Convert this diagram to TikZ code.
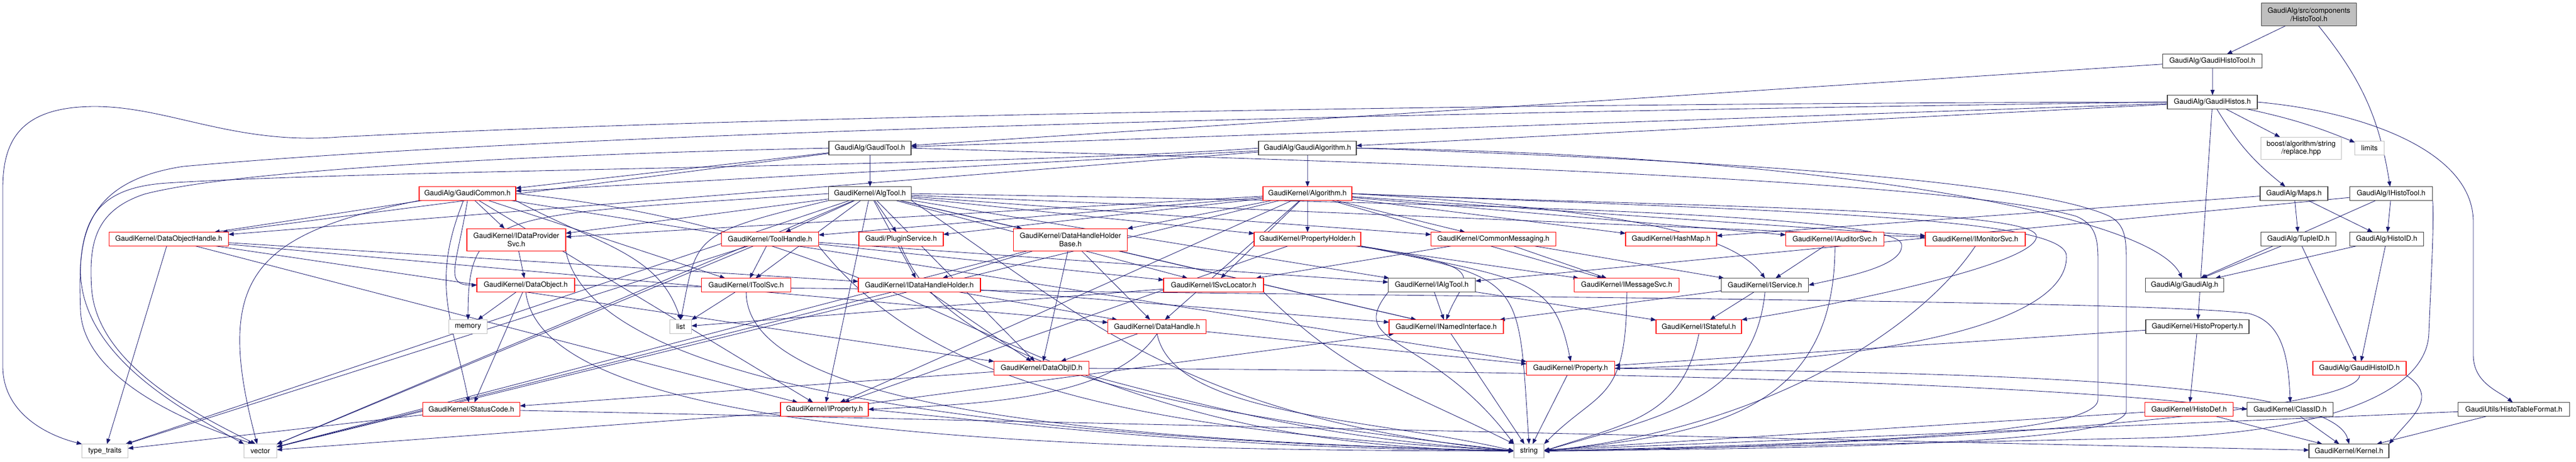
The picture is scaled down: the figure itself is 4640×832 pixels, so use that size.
\documentclass[tikz,border=0pt]{standalone}
\usepackage{fontspec}
\setmainfont{TeX Gyre Heros}
\usetikzlibrary{arrows.meta}
\definecolor{mblue}{HTML}{191970}
\definecolor{nred}{HTML}{FF0000}
\definecolor{nblk}{HTML}{404040}
\definecolor{ngry}{HTML}{BFBFBF}
\pgfdeclarelayer{background}
\pgfsetlayers{background,main}
\tikzset{
  nd/.style={rectangle, minimum height=25pt, inner xsep=2pt, inner ysep=0pt, fill=white,
             line width=0.055pt, font=\fontsize{13}{14.5}\selectfont, align=center},
  rn/.style={nd, draw=nred},
  bn/.style={nd, draw=nblk},
  gn/.style={nd, draw=ngry},
  ed/.style={draw=mblue, line width=0.042pt, -{Triangle[length=0.47pt,width=0.36pt]}},
}
\newcommand{\myedge}[3][]{\draw[ed] (#2) to[#1] (#3);}
\newcommand{\myc}[4]{\draw[ed] (#1) .. controls +(#2) and +(#3) .. (#4);}
\begin{document}
\begin{tikzpicture}[x=1pt,y=-1pt,scale=0.05,transform shape]
\useasboundingbox (0,0) rectangle (4640,832);
% ---------- nodes ----------
\node[bn, fill=ngry, minimum width=171pt, minimum height=41pt] (root) at (4159,26) {GaudiAlg/src/components\\/HistoTool.h};
\node[bn, minimum width=179pt] (ght) at (3985,110) {GaudiAlg/GaudiHistoTool.h};
\node[bn, minimum width=162pt] (ghs) at (3985,184) {GaudiAlg/GaudiHistos.h};
\node[bn, minimum width=148pt] (gt) at (1567,267) {GaudiAlg/GaudiTool.h};
\node[bn, minimum width=176pt] (ga) at (2355,267) {GaudiAlg/GaudiAlgorithm.h};
\node[gn, minimum width=145pt, minimum height=40pt] (boost) at (4145,267) {boost/algorithm/string\\/replace.hpp};
\node[gn, minimum width=53pt] (limits) at (4268,267) {limits};
\node[rn, minimum width=174pt] (gc) at (842,349) {GaudiAlg/GaudiCommon.h};
\node[bn, minimum width=149pt] (at) at (1567,349) {GaudiKernel/AlgTool.h};
\node[rn, minimum width=160pt] (alg) at (2355,349) {GaudiKernel/Algorithm.h};
\node[bn, minimum width=122pt] (maps) at (4132,349) {GaudiAlg/Maps.h};
\node[bn, minimum width=149pt] (iht) at (4307,349) {GaudiAlg/IHistoTool.h};
\node[rn, minimum width=215pt] (doh) at (304,431) {GaudiKernel/DataObjectHandle.h};
\node[rn, minimum width=178pt, minimum height=40pt] (idps) at (930,432) {GaudiKernel/IDataProvider\\Svc.h};
\node[rn, minimum width=175pt] (th) at (1387,431) {GaudiKernel/ToolHandle.h};
\node[rn, minimum width=152pt] (ps) at (1623,431) {Gaudi/PluginService.h};
\node[rn, minimum width=205pt, minimum height=40pt] (dhhb) at (1928,432) {GaudiKernel/DataHandleHolder\\Base.h};
\node[rn, minimum width=192pt] (ph) at (2355,431) {GaudiKernel/PropertyHolder.h};
\node[rn, minimum width=225pt] (cm) at (2690,431) {GaudiKernel/CommonMessaging.h};
\node[rn, minimum width=164pt] (hm) at (3010,431) {GaudiKernel/HashMap.h};
\node[rn, minimum width=177pt] (ias) at (3305,431) {GaudiKernel/IAuditorSvc.h};
\node[rn, minimum width=180pt] (ims) at (3558,431) {GaudiKernel/IMonitorSvc.h};
\node[bn, minimum width=135pt] (tid) at (4140,431) {GaudiAlg/TupleID.h};
\node[bn, minimum width=133pt] (hid) at (4299,431) {GaudiAlg/HistoID.h};
\node[rn, minimum width=176pt] (do) at (947,514) {GaudiKernel/DataObject.h};
\node[rn, minimum width=161pt] (its) at (1344,514) {GaudiKernel/IToolSvc.h};
\node[rn, minimum width=220pt] (idhh) at (1656,514) {GaudiKernel/IDataHandleHolder.h};
\node[rn, minimum width=180pt] (isl) at (2186,514) {GaudiKernel/ISvcLocator.h};
\node[bn, minimum width=157pt] (iat) at (2579,514) {GaudiKernel/IAlgTool.h};
\node[rn, minimum width=189pt] (imsg) at (2930,514) {GaudiKernel/IMessageSvc.h};
\node[bn, minimum width=157pt] (isvc) at (3179,514) {GaudiKernel/IService.h};
\node[bn, minimum width=141pt] (galg) at (3935,514) {GaudiAlg/GaudiAlg.h};
\node[gn, minimum width=69pt] (mem) at (843,589) {memory};
\node[gn, minimum width=39pt] (list) at (1226,589) {list};
\node[rn, minimum width=177pt] (dh) at (2084,589) {GaudiKernel/DataHandle.h};
\node[rn, minimum width=206pt] (ini) at (2605,589) {GaudiKernel/INamedInterface.h};
\node[rn, minimum width=154pt] (ist) at (3060,589) {GaudiKernel/IStateful.h};
\node[bn, minimum width=186pt] (hp) at (3958,589) {GaudiKernel/HistoProperty.h};
\node[rn, minimum width=171pt] (doid) at (1876,664) {GaudiKernel/DataObjID.h};
\node[rn, minimum width=159pt] (prop) at (2829,664) {GaudiKernel/Property.h};
\node[rn, minimum width=168pt] (ghid) at (4250,664) {GaudiAlg/GaudiHistoID.h};
\node[rn, minimum width=175pt] (sc) at (849,738) {GaudiKernel/StatusCode.h};
\node[rn, minimum width=158pt] (iprop) at (1485,738) {GaudiKernel/IProperty.h};
\node[rn, minimum width=159pt] (hd) at (3943,738) {GaudiKernel/HistoDef.h};
\node[bn, minimum width=155pt] (cid) at (4125,738) {GaudiKernel/ClassID.h};
\node[bn, minimum width=201pt] (htf) at (4528,738) {GaudiUtils/HistoTableFormat.h};
\node[gn, minimum width=83pt] (tt) at (189,813) {type\_traits};
\node[gn, minimum width=59pt] (vec) at (469,813) {vector};
\node[gn, minimum width=54pt] (str) at (2754,813) {string};
\node[bn, minimum width=144pt] (ker) at (4231,813) {GaudiKernel/Kernel.h};
% ---------- edges ----------
\begin{pgfonlayer}{background}
\fill[white] (0,0) rectangle (4640,832);
% root
\myedge{root}{ght}
\myedge[bend left=15]{root}{iht}
% GaudiHistoTool
\myedge{ght}{ghs}
\myedge{ght}{gt}
% GaudiHistos
\myedge{ghs}{gt}
\myedge{ghs}{ga}
\draw[ed] (ghs.west) .. controls (2600,186) and (1300,212) .. (610,247) .. controls (420,262) and (300,190) .. (165,192) .. controls (35,194) and (5,255) .. (5,340) -- (5,660) .. controls (5,745) and (85,785) .. (tt.north west);
\draw[ed] (ghs.west) .. controls (2400,205) and (1000,240) .. (330,300) .. controls (200,320) and (150,380) .. (145,480) .. controls (140,640) and (330,740) .. (vec.north west);
\myedge{ghs}{boost}
\myedge[bend left=5]{ghs}{limits}
\myedge[bend right=10]{ghs}{maps}
\myedge{ghs}{hp}
\draw[ed] (ghs.east) .. controls (4250,200) and (4455,270) .. (4455,400) -- (4455,640) .. controls (4455,690) and (4500,705) .. (htf.100);
% IHistoTool
\myedge{iht}{hid}
\myedge{iht}{galg}
\myedge{iht}{iat}
\draw[ed] (iht.south east) .. controls (4385,400) and (4378,520) .. (4375,600) .. controls (4372,720) and (4150,785) .. (3850,790) .. controls (3400,800) .. (str.east);
% Maps, TupleID, HistoID
\myedge{maps}{tid}
\myedge{maps}{hid}
\myedge{maps}{hm}
\myedge{tid}{galg}
\myedge{tid}{ghid}
\myedge{hid}{galg}
\myedge{hid}{ghid}
% GaudiHistoID etc.
\myc{ghid.south east}{60,40}{40,-50}{ker.north east}
\myc{ghid.south}{0,80}{400,0}{str.east}
\myedge{hp}{hd}
\myedge{hp}{prop}
\myedge{hd}{ker}
\myedge{hd}{str}
\myedge{cid}{ker}
\myedge{htf}{ker}
\myedge{htf}{str}
% GaudiTool
\myedge{gt}{gc}
\myedge{gt}{at}
\myedge{gt}{doh}
\draw[ed] (gt.west) .. controls (1100,275) and (450,300) .. (260,350) .. controls (170,380) and (160,440) .. (165,520) .. controls (175,660) and (360,750) .. (vec.125);
\draw[ed] (gt.east) .. controls (2400,290) and (3500,320) .. (3740,390) .. controls (3775,405) and (3779,430) .. (3779,470) -- (3779,720) .. controls (3779,785) and (3300,800) .. (str.east);
% GaudiAlgorithm
\myedge{ga}{alg}
\myedge{ga}{gc}
\myc{ga.east}{800,10}{-60,-120}{galg.110}
\myedge{ga}{doh}
\draw[ed] (ga.west) .. controls (1800,300) and (700,305) .. (300,330) .. controls (150,340) and (140,420) .. (145,560) .. controls (150,680) and (330,760) .. (vec.135);
\draw[ed] (ga.east) .. controls (3000,285) and (3650,320) .. (3800,390) .. controls (3828,405) and (3830,430) .. (3830,470) -- (3830,740) .. controls (3830,800) and (3300,808) .. (str.east);
% GaudiCommon
\myedge{gc}{doh}
\myedge{gc}{idps}
\myc{gc.south}{-20,120}{-60,0}{do.west}
\myedge{gc}{its}
\myc{gc.240}{-60,150}{-30,-150}{sc.110}
\myedge{gc}{iprop}
\myedge{gc}{prop}
\myc{gc.east}{800,80}{-900,-10}{str.west}
\myc{gc.south west}{-300,60}{-80,-300}{vec.115}
\myc{gc.south east}{150,80}{-40,-120}{list.north}
% AlgTool
\myedge{at}{ps}
\myedge{at}{dhhb}
\myedge{at}{th}
\myedge{at}{its}
\myedge{at}{idhh}
\myedge{at}{isl}
\myedge{at}{iat}
\draw[ed] (at.east) .. controls (2600,365) and (3415,385) .. (3425,440) .. controls (3432,480) and (3320,500) .. (isvc.east);
\myedge{at}{cm}
\myedge{at}{ph}
\myedge{at}{ims}
\myedge{at}{iprop}
\myedge{at}{doid}
\myedge{at}{ini}
\myc{at.south west}{-250,60}{30,-150}{list.north}
\myc{at.west}{-600,40}{0,-200}{mem.north}
\myedge{at}{vec}
\myedge{at}{tt}
\myedge{at}{idps}
\myc{at.south east}{300,200}{-600,-60}{str.west}
% Algorithm
\myedge{alg}{ph}
\myedge{alg}{cm}
\myedge{alg}{hm}
\myedge{alg}{ias}
\myedge{alg}{ims}
\myc{alg.east}{500,30}{-60,-80}{isvc.north}
\draw[ed] (alg.east) .. controls (3000,372) and (3660,375) .. (3668,425) .. controls (3675,480) and (3250,560) .. (ist.north east);
\draw[ed] (alg.east) .. controls (3200,380) and (3715,390) .. (3722,460) .. controls (3728,560) and (3500,650) .. (prop.east);
\myedge{alg}{isl}
\myedge{alg}{imsg}
\myedge{alg}{iprop}
\myedge{alg}{th}
\myedge{alg}{dhhb}
\myedge{alg}{ps}
\myedge{alg}{dh}
\myedge{alg}{idps}
\myedge{alg}{vec}
% ToolHandle
\myedge{th}{its}
\myedge{th}{iat}
\myedge{th}{isl}
\myedge{th}{vec}
\myedge{th}{tt}
\myc{th.south east}{200,250}{-700,-40}{str.west}
% IToolSvc, IDataProviderSvc, DataObject
\myedge{its}{list}
\myc{its.south}{0,200}{-800,-20}{str.west}
\myedge{idps}{do}
\myc{idps.south east}{50,250}{-900,-20}{str.west}
\myedge{do}{mem}
\myedge{do}{sc}
\myc{do.south}{30,250}{-900,0}{str.west}
\draw[ed] (do.east) .. controls (2500,535) and (3850,540) .. (4050,565) .. controls (4110,580) and (4122,640) .. (cid.north);
% StatusCode, IProperty
\myedge{sc}{tt}
\myedge{sc}{ker}
\myedge{iprop}{vec}
\myc{iprop.east}{400,40}{-500,-5}{str.west}
\myedge{iprop}{ini}
% DataObjID, DataHandle
\myedge{doid}{sc}
\draw[ed] (doid.east) .. controls (2800,668) and (3700,690) .. (cid.west);
\myc{doid.south east}{300,80}{-300,-20}{str.west}
\myedge{dh}{doid}
\myc{dh.south}{-80,120}{200,-10}{iprop.east}
\myedge{dh}{prop}
\myc{dh.south}{30,150}{-250,-60}{str.west}
% IDataHandleHolder, DataHandleHolderBase
\myedge{idhh}{doid}
\myedge{idhh}{dh}
\myedge{idhh}{vec}
\myedge{idhh}{ini}
\myedge{dhhb}{idhh}
\myedge{dhhb}{doid}
\myedge{dhhb}{dh}
\myedge{dhhb}{ini}
\myedge{dhhb}{vec}
% ISvcLocator, PluginService, PropertyHolder, CommonMessaging
\myedge{isl}{list}
\myc{isl.south east}{150,150}{-200,-100}{str.north west}
\myc{ps.south}{100,250}{-500,-60}{str.west}
\myedge{ph}{iprop}
\myc{ph.south east}{300,60}{-30,-150}{prop.north}
\myedge{ph}{imsg}
\myc{ph.south east}{250,40}{30,-80}{ini.north}
\myc{ph.south east}{300,60}{-20,-300}{str.north}
\myedge{cm}{imsg}
\myedge{cm}{isl}
\myedge{cm}{isvc}
% interfaces
\myedge{iat}{ini}
\myc{iat.south west}{-80,100}{-150,-200}{str.north west}
\myedge{iat}{ist}
\myc{imsg.south}{0,200}{100,-100}{str.north east}
\myedge{isvc}{ist}
\myc{isvc.south}{-20,200}{200,-60}{str.east}
\myedge{isvc}{ini}
\myedge{ias}{isvc}
\myc{ias.south}{0,300}{300,-30}{str.east}
\myc{ims.south}{-100,150}{400,-40}{str.east}
\myedge{ini}{str}
\myc{ist.south}{-30,150}{150,-50}{str.east}
\myedge{prop}{str}
\draw[ed] (prop.east) .. controls (3500,672) and (4200,680) .. (ker.north);
% DataObjectHandle
\myedge{doh}{tt}
\myedge{doh}{idhh}
\myedge{doh}{dh}
\myedge{doh}{iprop}
\myedge{doh}{doid}
\end{pgfonlayer}
\end{tikzpicture}
\end{document}
